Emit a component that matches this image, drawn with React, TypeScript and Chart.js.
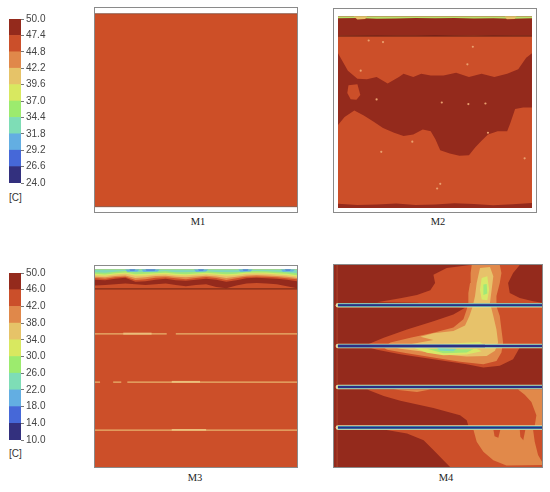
import React, { useEffect, useRef } from "react";
import { Chart, registerables } from "chart.js";
Chart.register(...registerables);

// ---------- colour scale (bottom -> top) ----------
const BAND_COLORS = ["#33307E", "#4668D8", "#63AEE2", "#7EDDB6", "#9CEB6E", "#D8E860", "#E6C368", "#E0884A", "#CB4F2A", "#942A1C"];
const CB1_TICKS = [24.0, 26.6, 29.2, 31.8, 34.4, 37.0, 39.6, 42.2, 44.8, 47.4, 50.0];
const CB2_TICKS = [10.0, 14.0, 18.0, 22.0, 26.0, 30.0, 34.0, 38.0, 42.0, 46.0, 50.0];
const UNIT_LABEL = "[C]";
const PANEL_LABELS = ["M1", "M2", "M3", "M4"];

const C_DARK = "#942A1C";
const C_MID = "#CC4F29";
const C_LIGHT = "#E1894A";
const C_YEL = "#E7C26A";
const C_YG = "#D8E868";
const C_GRN = "#A0E878";
const C_TEAL = "#7ED8B8";
const C_LBLUE = "#62AEE3";
const C_BLUE = "#4568DC";
const C_NAVY = "#2C2F86";

type Pt = [number, number];

// ---------- M1 ----------
const M1_FIELD: Pt[] = [[0, 2.6], [100, 2.6], [100, 97.2], [0, 97.2]];
const M1_EDGES = [2.6, 97.2];

// ---------- M2 ----------
const M2_TOP = 98.2;
const M2_FIELD: Pt[] = [[0, 0], [100, 0], [100, 98.2], [0, 98.2]];
const M2_HOT_CORE: Pt[] = [
  [0, 79.4], [5.1, 70.4], [10, 66.3], [14.9, 66], [19.9, 67.2], [25.6, 63.9], [31.4, 67.2], [33.8, 68.8], [38.8, 67.2], [42.9, 68.8],
  [47.8, 68], [54.4, 68], [60.9, 69.3], [67.5, 67.2], [74, 68.8], [80.6, 67.2], [87.2, 68.8], [92.9, 71.2], [97, 77], [100, 79.4],
  [100, 51.6], [95.4, 51.6], [91.3, 50.8], [88.8, 43.5], [87.2, 39.4], [82.3, 39.4], [77.3, 37.7], [74, 34.5], [70.8, 31.2], [67.5, 27.1],
  [62.6, 26.8], [57.6, 27.9], [52.7, 29.6], [50.2, 35.3], [47.8, 39.4], [43.7, 40.2], [38.8, 37.7], [33.8, 36.9], [28.9, 38.6], [23.2, 41],
  [18.2, 44.3], [13.3, 47.5], [8.4, 50], [3.4, 46.7], [0, 42.6],
];
const M2_BUMP: Pt[] = [[5.4, 63], [10, 63.5], [11.5, 58], [9.5, 55.5], [6.5, 55.8], [4.8, 59]];
const M2_X = [0, 10, 20, 30, 40, 50, 60, 70, 80, 90, 100];
const M2_HOT_EDGE = [88.6, 88.4, 88.3, 88.5, 88.4, 88.2, 88.4, 88.6, 88.3, 88.5, 88.4];
const M2_GREEN_EDGE = [97.3, 97.4, 97.1, 97.2, 97.4, 97.3, 97.4, 97.2, 97.3, 97.1, 97.3];
const M2_BOTTOM_EDGE = [2.2, 1.6, 1.8, 2.3, 1.5, 1.8, 2.4, 2.0, 1.4, 1.9, 2.6];
const M2_DARK_LINE = 88.2;
const M2_YELLOW_SPOTS: Pt[][] = [
  [[8, 98.2], [15, 98.2], [14, 96.9], [10, 96.7]],
  [[86, 98.2], [92, 98.2], [91, 96.9], [87, 96.8]],
];
const M2_DOTS: Pt[] = [
  [15.8, 85.9], [23.2, 85.1], [69.5, 82.7], [66.7, 73.7], [11.7, 70.4], [19.9, 55.7], [53.5, 54.1], [67.2, 53.3],
  [76, 53.6], [38.3, 34], [22.3, 28.8], [96.2, 25.5], [51.1, 10], [52.7, 12.4], [77.3, 38.6],
];

// ---------- M3 ----------
const M3_TOP = 98.2;
const M3_FIELD: Pt[] = [[0, 0], [100, 0], [100, 98.2], [0, 98.2]];
const M3_X = [0, 5, 10, 15, 20, 25, 30, 35, 40, 45, 50, 55, 60, 65, 70, 75, 80, 85, 90, 95, 100];
const M3_DARK = [90.3, 90.6, 90.9, 91.3, 90.9, 90.6, 90.9, 91.3, 90.6, 89.9, 90.6, 90.9, 89.6, 88.9, 90.3, 91.3, 91.6, 91.3, 90.9, 89.9, 88.9];
const M3_MID = [93.2, 92.9, 93.6, 94.1, 92.2, 92.4, 93.2, 93.6, 92.9, 92.6, 93.2, 93.7, 93.2, 92.2, 92.9, 93.9, 94.2, 93.9, 93.6, 93.2, 92.4];
const M3_LIGHT = [94.0, 93.7, 94.4, 94.7, 93.0, 93.4, 94.2, 94.4, 93.9, 93.4, 94.0, 94.5, 94.0, 93.0, 93.9, 94.7, 94.8, 94.7, 94.4, 93.9, 93.4];
const M3_YEL = [94.7, 94.4, 95.0, 95.3, 94.0, 94.4, 95.0, 95.2, 94.7, 94.4, 94.8, 95.2, 94.8, 94.0, 94.7, 95.3, 95.5, 95.3, 95.0, 94.7, 94.0];
const M3_YG = [95.4, 95.1, 95.8, 96.1, 95.1, 95.3, 95.8, 95.9, 95.4, 95.3, 95.6, 95.9, 95.6, 95.1, 95.4, 96.1, 96.3, 96.1, 95.8, 95.4, 94.8];
const M3_GRN = [96.1, 95.8, 96.4, 96.8, 95.9, 96.1, 96.4, 96.6, 96.1, 95.9, 96.3, 96.6, 96.3, 95.9, 96.1, 96.8, 96.8, 96.8, 96.4, 96.1, 95.4];
const M3_TEAL = [96.9, 96.7, 97.2, 97.5, 96.9, 97.0, 97.2, 97.4, 96.9, 96.9, 97.0, 97.4, 97.0, 96.9, 96.9, 97.4, 97.5, 97.4, 97.2, 96.9, 96.4];
const M3_BLUE_PATCHES: Pt[] = [[16, 21], [24, 31], [50, 55], [72, 77], [93, 98]];
const M3_DARK_LINE = 88.6;
const M3_STREAK_Y = [66.2, 42.2, 18.3];
const M3_STREAK_SEGMENTS: Pt[][] = [
  [[0, 35.5], [40, 100]],
  [[0, 2.5], [9, 13], [16, 100]],
  [[0, 100]],
];
const M3_STREAK_THICK: Pt[][] = [[[14, 28]], [[38, 52]], [[38, 55]]];

// ---------- M4 ----------
const M4_BASE: Pt[] = [[0, 0], [100, 0], [100, 100], [0, 100]];
const M4_MID_UPPER: Pt[] = [
  [14.4, 59.9], [23.9, 64.0], [35.1, 68.1], [47.8, 72.2], [57.4, 75.5], [63.0, 78.8], [39.9, 81.3], [20.7, 81.6], [31.9, 83.6], [39.9, 85.2],
  [46.3, 87.5], [48.6, 91.1], [47.8, 95.2], [54.2, 98.5], [65.4, 100], [89.3, 100], [86.1, 96], [83.7, 91.1], [84.5, 86.2], [89.3, 83.7],
  [95.7, 82.1], [100, 81.3], [100, 60.8], [89.3, 59.1], [86.1, 53.4], [79.7, 50.1], [71.8, 49.3], [63.8, 50.9], [47.8, 53.4], [31.9, 55.8], [20.7, 58.0],
];
const M4_MID_MIDDLE: Pt[] = [[15.9, 38.4], [100, 38.4], [100, 20.4], [64.6, 20.4], [63.8, 23.2], [60.6, 25.6], [47.8, 29.2], [31.9, 32.8], [23.9, 35.1]];
const M4_MID_LOWER: Pt[] = [[23.9, 18.6], [100, 18.6], [100, 0], [55.8, 0], [52.6, 3.4], [47.8, 8.4], [43.1, 13.3], [35.1, 16.6]];
const M4_LIGHT_UPPER: Pt[] = [
  [66.2, 100], [79.7, 100], [80.5, 96.0], [79.7, 91.1], [78.1, 84.6], [78.1, 79.6], [79.7, 74.7], [80.5, 68.1], [81.3, 61.6], [80.5, 56.7],
  [78.1, 52.5], [71.8, 50.9], [60.6, 52.1], [47.8, 54.2], [35.1, 56.3], [25.5, 58.0], [23.9, 59.1], [27.1, 61.6], [36.7, 64.0], [47.8, 66.5],
  [57.4, 69.0], [62.2, 73.1], [63.8, 78.0], [64.6, 81.3], [64.6, 86.2], [65.4, 91.1], [65.7, 96.1],
];
const M4_LIGHT_RIGHT: Pt[] = [[88.5, 38.4], [100, 38.4], [100, 20.4], [96.5, 20.4], [97.3, 25.6], [94.9, 32.2], [91.7, 35.8]];
const M4_LIGHT_STRIP: Pt[] = [[28.7, 38.4], [46.3, 38.4], [39.9, 37.1]];
const M4_LIGHT_LOWER: Pt[] = [[67, 18.6], [95.7, 18.6], [96.5, 12.5], [98.1, 5.9], [100, 2.6], [100, 1], [82.9, 0.7], [76.6, 3.4], [71.8, 7.6], [68.6, 12.5]];
const M4_DARK_FINGERS: Pt[][] = [
  [[76.6, 18.6], [80, 18.6], [79, 14.5], [77.2, 15.2]],
  [[89.3, 18.6], [92, 18.6], [91, 13.3], [89.6, 15]],
];
const M4_YELLOW: Pt[] = [
  [70.2, 98.5], [75, 99], [76.6, 94.4], [75.8, 87.8], [75, 81.3], [76.6, 74.7], [78.1, 68.1], [78.9, 61.6], [77.4, 57.5], [73.4, 55],
  [63.8, 54.7], [52.6, 55.7], [41.5, 57.3], [31.9, 58.6], [28.7, 59.3], [36.7, 60.8], [47.8, 62.9], [41.5, 64.5], [47.8, 66.2], [57.4, 67.3],
  [63, 70.1], [65.1, 74.7], [66.7, 79.6], [67.8, 84.6], [68.6, 91.1],
];
const M4_YG_TOP: Pt[] = [[71, 93.6], [73.7, 94.4], [74.6, 87.8], [73.7, 82.6], [71, 82.9], [70.2, 87.8]];
const M4_GREEN_TOP: Pt[] = [[71.8, 90.3], [73.4, 90.6], [73.7, 85.9], [71.8, 85.2]];
const M4_YG_ABOVE: Pt[] = [[47.8, 60.6], [60.6, 61.4], [70.2, 61.9], [72.1, 60.6]];
const M4_YG_BELOW: Pt[] = [[38.3, 59], [47.8, 58.6], [60.6, 58], [68.6, 58.6], [71, 57.3], [63.8, 55.7], [52.6, 55.3], [44.7, 56.6]];
const M4_GREEN_BELOW: Pt[] = [[44.7, 58.6], [57.4, 58.3], [67, 58.3], [63.8, 56.7], [52.6, 56.3]];
const M4_TEAL_BELOW: Pt[] = [[49.4, 59], [59, 58.6], [57.4, 57.3], [51, 57.6]];
const M4_PIPES_Y = [80.1, 59.9, 39.6, 19.5];
const M4_PIPE_START = 1.9;
const M4_PIPE2_CORE_END = 72.6;
const M4_EDGE_X = 1.5;

// ---------- dataset helpers ----------
const xy = (pts: Pt[]) => pts.map(([x, y]) => ({ x, y }));
function shape(pts: Pt[], color: string) {
  return { type: "line", data: xy(pts), fill: "shape", backgroundColor: color, borderColor: color, borderWidth: 0, pointRadius: 0, tension: 0 };
}
function band(xs: number[], ys: number[], to: number, color: string) {
  return { type: "line", data: xs.map((x, i) => ({ x, y: ys[i] })), fill: { value: to }, backgroundColor: color, borderColor: color, borderWidth: 0, pointRadius: 0, tension: 0 };
}
function stroke(segs: Pt[], y: number, color: string, width: number, cap = "butt") {
  const data: any[] = [];
  segs.forEach(([a, b], i) => {
    if (i) data.push({ x: (segs[i - 1][1] + a) / 2, y: null });
    data.push({ x: a, y }, { x: b, y });
  });
  return { type: "line", data, fill: false, borderColor: color, borderWidth: width, pointRadius: 0, spanGaps: false, tension: 0, borderCapStyle: cap };
}
function vstroke(x: number, color: string, width: number) {
  return { type: "line", data: [{ x, y: 0 }, { x, y: 100 }], fill: false, borderColor: color, borderWidth: width, pointRadius: 0 };
}
function dots(pts: Pt[], color: string, r: number) {
  return { type: "line", data: xy(pts), showLine: false, fill: false, pointRadius: r, pointBackgroundColor: color, pointBorderWidth: 0, borderWidth: 0 };
}

function buildM1() {
  return [shape(M1_FIELD, "#CD4F27"), ...M1_EDGES.map((y) => stroke([[0, 100]], y, "#7b4b3b", 0.8))];
}
function buildM2() {
  return [
    shape(M2_FIELD, C_MID),
    shape(M2_HOT_CORE, C_DARK),
    shape(M2_BUMP, C_MID),
    dots(M2_DOTS, "#E9A06E", 1.1),
    band(M2_X, M2_HOT_EDGE, M2_TOP, C_DARK),
    band(M2_X, M2_BOTTOM_EDGE, 0, C_DARK),
    band(M2_X, M2_GREEN_EDGE, M2_TOP, "#B6E26A"),
    ...M2_YELLOW_SPOTS.map((p) => shape(p, C_YEL)),
    stroke([[0, 100]], M2_DARK_LINE, "#5B1B12", 1),
  ];
}
function buildM3() {
  const ds: any[] = [shape(M3_FIELD, C_MID)];
  [[M3_DARK, C_DARK], [M3_MID, C_MID], [M3_LIGHT, C_LIGHT], [M3_YEL, C_YEL], [M3_YG, C_YG], [M3_GRN, C_GRN], [M3_TEAL, C_TEAL]].forEach(([arr, c]: any) =>
    ds.push(band(M3_X, arr, M3_TOP, c))
  );
  M3_BLUE_PATCHES.forEach(([a, b]) => {
    ds.push(shape([[a - 1, M3_TOP], [b + 1, M3_TOP], [b, 97.3], [a, 97.2]], C_LBLUE));
    ds.push(shape([[a + 1, M3_TOP], [b - 1, M3_TOP], [b - 1.5, 97.8], [a + 1.5, 97.7]], C_BLUE));
  });
  ds.push(stroke([[0, 100]], M3_DARK_LINE, "#6E2314", 1));
  M3_STREAK_Y.forEach((y, i) => {
    ds.push(stroke(M3_STREAK_SEGMENTS[i], y, "#E8B46E", 1.3));
    ds.push(stroke(M3_STREAK_THICK[i], y + 0.15, "#EBBE7A", 1.9));
  });
  return ds;
}
function buildM4() {
  const ds: any[] = [
    shape(M4_BASE, C_DARK),
    shape(M4_MID_UPPER, C_MID),
    shape(M4_MID_MIDDLE, C_MID),
    shape(M4_MID_LOWER, C_MID),
    shape(M4_LIGHT_UPPER, C_LIGHT),
    shape(M4_LIGHT_RIGHT, C_LIGHT),
    shape(M4_LIGHT_STRIP, C_LIGHT),
    shape(M4_LIGHT_LOWER, C_LIGHT),
    ...M4_DARK_FINGERS.map((p) => shape(p, C_MID)),
    shape(M4_YELLOW, C_YEL),
    shape(M4_YG_TOP, C_YG),
    shape(M4_GREEN_TOP, C_GRN),
    shape(M4_YG_ABOVE, C_YG),
    shape(M4_YG_BELOW, C_YG),
    shape(M4_GREEN_BELOW, C_GRN),
    shape(M4_TEAL_BELOW, C_TEAL),
    vstroke(M4_EDGE_X, "#B24B30", 0.8),
  ];
  M4_PIPES_Y.forEach((y) => ds.push(stroke([[M4_PIPE_START, 100]], y, "#E2DDA8", 4.6, "round")));
  M4_PIPES_Y.forEach((y) => ds.push(stroke([[M4_PIPE_START, 100]], y, "#3FA0B0", 3.2)));
  M4_PIPES_Y.forEach((y) => ds.push(stroke([[M4_PIPE_START, 100]], y, C_NAVY, 1.8)));
  ds.push(stroke([[M4_PIPE_START, M4_PIPE2_CORE_END]], M4_PIPES_Y[1], C_NAVY, 2.5));
  return ds;
}

// ---------- components ----------
function Field({ left, top, width, height, build }: { left: number; top: number; width: number; height: number; build: () => any[] }) {
  const ref = useRef<HTMLCanvasElement>(null);
  useEffect(() => {
    const list = build();
    const n = list.length;
    const chart = new Chart(ref.current as HTMLCanvasElement, {
      type: "line",
      data: { datasets: list.map((d, i) => ({ ...d, order: n - i })) as any },
      options: {
        animation: false,
        responsive: false,
        events: [],
        layout: { padding: 0 },
        plugins: { legend: { display: false }, tooltip: { enabled: false } },
        scales: {
          x: { type: "linear", min: 0, max: 100, display: false },
          y: { type: "linear", min: 0, max: 100, display: false },
        },
      } as any,
    });
    return () => chart.destroy();
  }, []);
  return (
    <div style={{ position: "absolute", left, top, width, height, border: "1px solid #8a8a8a", boxSizing: "border-box", background: "#fff" }}>
      <canvas ref={ref} width={width - 2} height={height - 2} style={{ display: "block" }} />
    </div>
  );
}

function ColorBar({ left, top, height, ticks }: { left: number; top: number; height: number; ticks: number[] }) {
  const ref = useRef<HTMLCanvasElement>(null);
  useEffect(() => {
    const datasets = BAND_COLORS.map((c, i) => ({
      data: [[ticks[i], ticks[i + 1]]],
      backgroundColor: c,
      borderWidth: 0,
      barPercentage: 1,
      categoryPercentage: 1,
      grouped: false,
    }));
    const chart = new Chart(ref.current as HTMLCanvasElement, {
      type: "bar",
      data: { labels: [""], datasets } as any,
      options: {
        animation: false,
        responsive: false,
        events: [],
        layout: { padding: { top: 7, bottom: 7, left: 0, right: 0 } },
        plugins: { legend: { display: false }, tooltip: { enabled: false } },
        scales: {
          x: { display: false },
          y: {
            position: "right",
            min: ticks[0],
            max: ticks[ticks.length - 1],
            afterBuildTicks: (s: any) => {
              s.ticks = ticks.map((v) => ({ value: v }));
            },
            afterFit: (s: any) => {
              s.width = 36;
            },
            ticks: {
              autoSkip: false,
              callback: (v: any) => Number(v).toFixed(1),
              font: { family: '"Liberation Sans", Arial, sans-serif', size: 10 },
              color: "#444",
              padding: 2,
            },
            grid: { drawOnChartArea: false, tickLength: 3, color: "#777" },
            border: { display: false },
          },
        },
      } as any,
    });
    return () => chart.destroy();
  }, []);
  return <canvas ref={ref} width={48} height={height} style={{ position: "absolute", left, top, display: "block" }} />;
}

const labelStyle = (cx: number, cy: number): React.CSSProperties => ({
  position: "absolute",
  left: cx - 20,
  top: cy - 7,
  width: 40,
  lineHeight: "14px",
  textAlign: "center",
  fontFamily: '"Liberation Serif", "Times New Roman", serif',
  fontSize: 10.5,
  color: "#222",
});
const unitStyle = (top: number): React.CSSProperties => ({
  position: "absolute",
  left: 9,
  top,
  lineHeight: "12px",
  fontFamily: '"Liberation Sans", Arial, sans-serif',
  fontSize: 10,
  color: "#333",
});

export default function App() {
  return (
    <div style={{ position: "absolute", left: 0, top: 0, width: 550, height: 492, background: "#fff", overflow: "hidden" }}>
      <ColorBar left={9} top={11} height={180} ticks={CB1_TICKS} />
      <div style={unitStyle(192)}>{UNIT_LABEL}</div>
      <ColorBar left={9} top={265} height={183} ticks={CB2_TICKS} />
      <div style={unitStyle(448)}>{UNIT_LABEL}</div>

      <Field left={94} top={7} width={204} height={206} build={buildM1} />
      <Field left={333} top={8} width={204} height={205} build={buildM2} />
      <Field left={94} top={265} width={204} height={203} build={buildM3} />
      <Field left={333} top={264} width={210} height={204} build={buildM4} />

      <div style={labelStyle(198, 221.5)}>{PANEL_LABELS[0]}</div>
      <div style={labelStyle(438, 221.5)}>{PANEL_LABELS[1]}</div>
      <div style={labelStyle(195, 478)}>{PANEL_LABELS[2]}</div>
      <div style={labelStyle(446, 478)}>{PANEL_LABELS[3]}</div>
    </div>
  );
}
